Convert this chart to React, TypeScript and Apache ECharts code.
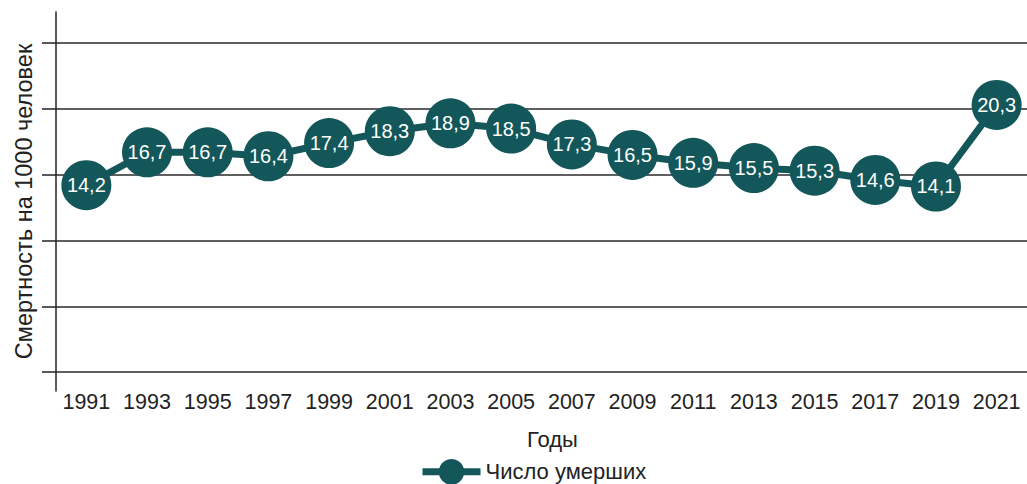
import React, { useEffect, useRef } from "react";
import * as echarts from "echarts";

const years = ["1991", "1993", "1995", "1997", "1999", "2001", "2003", "2005", "2007", "2009", "2011", "2013", "2015", "2017", "2019", "2021"];
const deaths = [14.2, 16.7, 16.7, 16.4, 17.4, 18.3, 18.9, 18.5, 17.3, 16.5, 15.9, 15.5, 15.3, 14.6, 14.1, 20.3];
const yTicks = [0, 5, 10, 15, 20, 25];
const seriesName = "Число умерших";
const xName = "Годы";
const yName = "Смертность на 1000 человек";

const FONT = "'Liberation Sans', Arial, Helvetica, sans-serif";
const TEAL = "#13575A";
const INK = "#222222";

export default function App() {
  const ref = useRef<HTMLDivElement>(null);
  useEffect(() => {
    if (!ref.current) return;
    const chart = echarts.init(ref.current, null, { renderer: "svg" });
    chart.setOption({
      animation: false,
      backgroundColor: "#ffffff",
      textStyle: { fontFamily: FONT },
      grid: { left: 56, top: 12, width: 976, bottom: 93, containLabel: false },
      legend: {
        data: [seriesName],
        top: 454,
        left: 414,
        itemWidth: 58,
        itemHeight: 32,
        itemGap: 10,
        lineStyle: { width: 7 },
        textStyle: { fontFamily: FONT, fontSize: 22, color: INK },
      },
      xAxis: {
        type: "category",
        data: years,
        boundaryGap: true,
        axisLine: { show: false },
        axisTick: { show: false },
        axisLabel: { fontFamily: FONT, fontSize: 21.5, color: INK, margin: 0, interval: 0 },
        name: xName,
        nameLocation: "middle",
        nameGap: 37,
        nameTextStyle: { fontFamily: FONT, fontSize: 22, color: INK, padding: [0, 0, 0, 22] },
      },
      yAxis: {
        type: "value",
        min: -1.44,
        max: 27.36,
        axisLine: { show: true, lineStyle: { color: INK, width: 1.5 } },
        axisTick: { show: true, inside: false, length: 14, customValues: yTicks, lineStyle: { color: INK, width: 1.5 } },
        axisLabel: { show: false, customValues: yTicks },
        splitLine: { show: true, lineStyle: { color: "#2a2a2a", width: 1.6 } },
        name: yName,
        nameLocation: "middle",
        nameGap: 20,
        nameRotate: 90,
        nameTextStyle: { fontFamily: FONT, fontSize: 23.5, color: INK },
      },
      series: [
        {
          name: seriesName,
          type: "line",
          data: deaths,
          symbol: "circle",
          symbolSize: 50,
          itemStyle: { color: TEAL },
          lineStyle: { color: TEAL, width: 7 },
          label: {
            show: true,
            position: "inside",
            color: "#ffffff",
            fontFamily: FONT,
            fontSize: 20,
            formatter: (p: any) => String(p.value).replace(".", ","),
          },
        },
      ],
    });
    return () => chart.dispose();
  }, []);
  return <div ref={ref} style={{ position: "fixed", left: 0, top: 0, width: 1027, height: 484 }} />;
}
